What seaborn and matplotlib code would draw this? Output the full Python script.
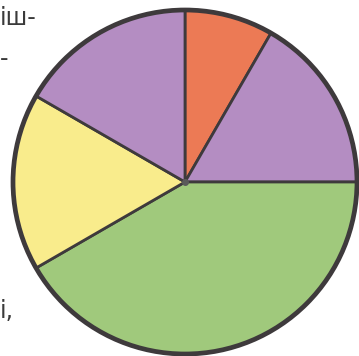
import matplotlib
matplotlib.use("Agg")
import matplotlib.pyplot as plt
import seaborn as sns

sns.set_style("white")
plt.rcParams['font.family'] = ['DejaVu Sans']

# Sector shares (in twelfths of the circle), clockwise from the top
sectors = ["orange", "purple_right", "green", "yellow", "purple_left"]
shares = [1, 2, 5, 2, 2]
colors = ["#EC7A55", "#B48DC2", "#A0C97C", "#F9EC8C", "#B48DC2"]

W, H = 359, 356
fig = plt.figure(figsize=(W / 100, H / 100), dpi=100)
fig.patch.set_facecolor("white")

cx, cy, r = 185, 182, 172
ax = fig.add_axes([(cx - r) / W, (H - cy - r) / H, 2 * r / W, 2 * r / H])
wedges, _ = ax.pie(
    shares,
    colors=colors,
    startangle=90,
    counterclock=False,
    radius=1.0,
    wedgeprops=dict(edgecolor="#3e3a3c", linewidth=2.0, clip_on=False),
)
# heavier outer rim
rim = plt.Circle((0, 0), 1.0, fill=False, edgecolor="#3e3a3c", linewidth=3.4, clip_on=False)
ax.add_patch(rim)
ax.plot([0], [0], marker="o", markersize=4, color="#5a5a5a", clip_on=False)
ax.set_xlim(-1, 1)
ax.set_ylim(-1, 1)
ax.set_aspect("equal")
ax.axis("off")

# fragments of the surrounding paragraph text
def px_text(x, y, s):
    fig.text(x / W, 1 - y / H, s, fontsize=17, color="#3a3a3a", ha="left", va="baseline")

px_text(0, 25, "іш-")
px_text(0, 66, "-")
px_text(0, 318, "і,")

fig.savefig("out.png", dpi=100, facecolor="white")
